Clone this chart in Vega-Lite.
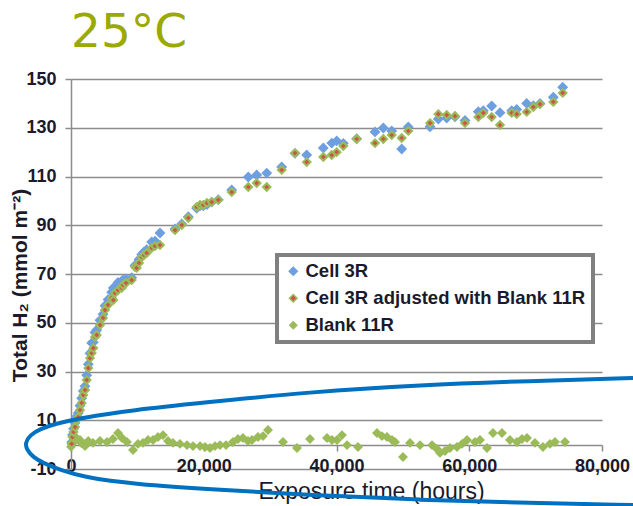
{
  "$schema": "https://vega.github.io/schema/vega-lite/v6.json",
  "width": 531,
  "height": 390,
  "autosize": "none",
  "padding": {"left": 71, "top": 79, "right": 31, "bottom": 37},
  "background": "white",
  "title": {
    "text": "25°C",
    "anchor": "start",
    "frame": "group",
    "font": "DejaVu Sans",
    "fontSize": 47,
    "fontWeight": "normal",
    "color": "#9aaa00",
    "dx": 0,
    "offset": 13
  },
  "datasets": {
    "ellipse": [
      {"i": 0, "t": 84671, "h": 27.3},
      {"i": 1, "t": 69153, "h": 26.1},
      {"i": 2, "t": 52580, "h": 24.5},
      {"i": 3, "t": 36008, "h": 21.6},
      {"i": 4, "t": 19435, "h": 17.1},
      {"i": 5, "t": 9341, "h": 14.2},
      {"i": 6, "t": 1356, "h": 10.9},
      {"i": 7, "t": -2411, "h": 8.5},
      {"i": 8, "t": -4670, "h": 6.4},
      {"i": 9, "t": -6177, "h": 3.9},
      {"i": 10, "t": -6930, "h": 0.7},
      {"i": 11, "t": -6629, "h": -2.2},
      {"i": 12, "t": -5725, "h": -5.1},
      {"i": 13, "t": -4218, "h": -7.5},
      {"i": 14, "t": -1657, "h": -10.4},
      {"i": 15, "t": 1808, "h": -13.3},
      {"i": 16, "t": 9341, "h": -16.2},
      {"i": 17, "t": 22448, "h": -18.6},
      {"i": 18, "t": 36008, "h": -20.7},
      {"i": 19, "t": 52580, "h": -22.7},
      {"i": 20, "t": 69153, "h": -23.9},
      {"i": 21, "t": 84671, "h": -24.8}
    ],
    "points": [
      {"s": "Cell 3R", "t": 105, "h": 1.0},
      {"s": "Cell 3R", "t": 226, "h": 4.0},
      {"s": "Cell 3R", "t": 377, "h": 6.5},
      {"s": "Cell 3R", "t": 603, "h": 9.0},
      {"s": "Cell 3R", "t": 829, "h": 11.5},
      {"s": "Cell 3R", "t": 1100, "h": 13.0},
      {"s": "Cell 3R", "t": 1356, "h": 16.0},
      {"s": "Cell 3R", "t": 1612, "h": 19.0},
      {"s": "Cell 3R", "t": 1853, "h": 22.0},
      {"s": "Cell 3R", "t": 2109, "h": 24.0},
      {"s": "Cell 3R", "t": 2365, "h": 28.5},
      {"s": "Cell 3R", "t": 2606, "h": 33.0},
      {"s": "Cell 3R", "t": 2863, "h": 37.5},
      {"s": "Cell 3R", "t": 3119, "h": 41.7},
      {"s": "Cell 3R", "t": 3360, "h": 42.0},
      {"s": "Cell 3R", "t": 3616, "h": 46.0},
      {"s": "Cell 3R", "t": 3872, "h": 47.0},
      {"s": "Cell 3R", "t": 4369, "h": 51.0},
      {"s": "Cell 3R", "t": 4821, "h": 53.5},
      {"s": "Cell 3R", "t": 5122, "h": 57.0},
      {"s": "Cell 3R", "t": 5574, "h": 59.5},
      {"s": "Cell 3R", "t": 6132, "h": 62.5},
      {"s": "Cell 3R", "t": 6373, "h": 64.3},
      {"s": "Cell 3R", "t": 6629, "h": 64.0},
      {"s": "Cell 3R", "t": 7081, "h": 66.5},
      {"s": "Cell 3R", "t": 7638, "h": 67.0},
      {"s": "Cell 3R", "t": 7834, "h": 67.5},
      {"s": "Cell 3R", "t": 8286, "h": 68.0},
      {"s": "Cell 3R", "t": 9145, "h": 68.5},
      {"s": "Cell 3R", "t": 9642, "h": 73.5},
      {"s": "Cell 3R", "t": 9898, "h": 74.0},
      {"s": "Cell 3R", "t": 10245, "h": 76.0},
      {"s": "Cell 3R", "t": 10652, "h": 78.0},
      {"s": "Cell 3R", "t": 10998, "h": 79.0},
      {"s": "Cell 3R", "t": 11405, "h": 80.0},
      {"s": "Cell 3R", "t": 12158, "h": 83.1},
      {"s": "Cell 3R", "t": 12655, "h": 83.5},
      {"s": "Cell 3R", "t": 13409, "h": 86.8},
      {"s": "Cell 3R", "t": 15669, "h": 88.5},
      {"s": "Cell 3R", "t": 16678, "h": 90.5},
      {"s": "Cell 3R", "t": 17673, "h": 93.5},
      {"s": "Cell 3R", "t": 18938, "h": 97.0},
      {"s": "Cell 3R", "t": 19436, "h": 98.0},
      {"s": "Cell 3R", "t": 19933, "h": 98.0},
      {"s": "Cell 3R", "t": 20490, "h": 98.5},
      {"s": "Cell 3R", "t": 21198, "h": 99.5},
      {"s": "Cell 3R", "t": 22192, "h": 100.5},
      {"s": "Cell 3R", "t": 24211, "h": 104.5},
      {"s": "Cell 3R", "t": 26712, "h": 109.8},
      {"s": "Cell 3R", "t": 27978, "h": 110.6},
      {"s": "Cell 3R", "t": 29484, "h": 111.4},
      {"s": "Cell 3R", "t": 31744, "h": 113.9},
      {"s": "Cell 3R", "t": 33748, "h": 119.5},
      {"s": "Cell 3R", "t": 35511, "h": 118.8},
      {"s": "Cell 3R", "t": 38012, "h": 121.7},
      {"s": "Cell 3R", "t": 39278, "h": 123.7},
      {"s": "Cell 3R", "t": 40031, "h": 124.6},
      {"s": "Cell 3R", "t": 41025, "h": 123.6},
      {"s": "Cell 3R", "t": 43043, "h": 125.5},
      {"s": "Cell 3R", "t": 45801, "h": 128.3},
      {"s": "Cell 3R", "t": 47051, "h": 129.9},
      {"s": "Cell 3R", "t": 48317, "h": 128.7},
      {"s": "Cell 3R", "t": 49824, "h": 121.3},
      {"s": "Cell 3R", "t": 50818, "h": 130.3},
      {"s": "Cell 3R", "t": 54088, "h": 130.4},
      {"s": "Cell 3R", "t": 55338, "h": 133.6},
      {"s": "Cell 3R", "t": 56604, "h": 134.0},
      {"s": "Cell 3R", "t": 57854, "h": 134.5},
      {"s": "Cell 3R", "t": 59360, "h": 133.0},
      {"s": "Cell 3R", "t": 61364, "h": 136.6},
      {"s": "Cell 3R", "t": 62117, "h": 137.0},
      {"s": "Cell 3R", "t": 63383, "h": 138.9},
      {"s": "Cell 3R", "t": 64634, "h": 136.2},
      {"s": "Cell 3R", "t": 66396, "h": 137.0},
      {"s": "Cell 3R", "t": 67150, "h": 137.5},
      {"s": "Cell 3R", "t": 68656, "h": 140.0},
      {"s": "Cell 3R", "t": 69651, "h": 139.0},
      {"s": "Cell 3R", "t": 70660, "h": 140.0},
      {"s": "Cell 3R", "t": 72664, "h": 142.5},
      {"s": "Cell 3R", "t": 74080, "h": 146.6},
      {"s": "Blank 11R", "t": 0, "h": -0.9},
      {"s": "Blank 11R", "t": 105, "h": 0.7},
      {"s": "Blank 11R", "t": 300, "h": 1.0},
      {"s": "Blank 11R", "t": 603, "h": 1.9},
      {"s": "Blank 11R", "t": 900, "h": 2.5},
      {"s": "Blank 11R", "t": 1356, "h": 1.9},
      {"s": "Blank 11R", "t": 1600, "h": 0.5},
      {"s": "Blank 11R", "t": 2109, "h": -0.6},
      {"s": "Blank 11R", "t": 2600, "h": 1.5},
      {"s": "Blank 11R", "t": 3315, "h": 0.7},
      {"s": "Blank 11R", "t": 4369, "h": 1.5},
      {"s": "Blank 11R", "t": 5424, "h": 1.1},
      {"s": "Blank 11R", "t": 6327, "h": 2.3},
      {"s": "Blank 11R", "t": 7081, "h": 4.8},
      {"s": "Blank 11R", "t": 7684, "h": 2.7},
      {"s": "Blank 11R", "t": 8437, "h": 1.1},
      {"s": "Blank 11R", "t": 9340, "h": -2.2},
      {"s": "Blank 11R", "t": 10094, "h": 0.3},
      {"s": "Blank 11R", "t": 10847, "h": 0.7},
      {"s": "Blank 11R", "t": 11601, "h": 1.9},
      {"s": "Blank 11R", "t": 12354, "h": 1.9},
      {"s": "Blank 11R", "t": 13108, "h": 3.1},
      {"s": "Blank 11R", "t": 13861, "h": 3.9},
      {"s": "Blank 11R", "t": 14614, "h": 1.5},
      {"s": "Blank 11R", "t": 15367, "h": 0.7},
      {"s": "Blank 11R", "t": 16422, "h": 0.3},
      {"s": "Blank 11R", "t": 17475, "h": -0.2},
      {"s": "Blank 11R", "t": 18380, "h": -0.6},
      {"s": "Blank 11R", "t": 19436, "h": -0.6},
      {"s": "Blank 11R", "t": 20189, "h": -1.0},
      {"s": "Blank 11R", "t": 20942, "h": -1.4},
      {"s": "Blank 11R", "t": 21695, "h": -0.6},
      {"s": "Blank 11R", "t": 22448, "h": -0.2},
      {"s": "Blank 11R", "t": 23352, "h": -0.2},
      {"s": "Blank 11R", "t": 24407, "h": 1.1},
      {"s": "Blank 11R", "t": 25160, "h": 2.3},
      {"s": "Blank 11R", "t": 25913, "h": 2.7},
      {"s": "Blank 11R", "t": 26667, "h": 1.5},
      {"s": "Blank 11R", "t": 27270, "h": 1.9},
      {"s": "Blank 11R", "t": 28174, "h": 3.1},
      {"s": "Blank 11R", "t": 28927, "h": 3.5},
      {"s": "Blank 11R", "t": 29680, "h": 6.0},
      {"s": "Blank 11R", "t": 31940, "h": 1.1},
      {"s": "Blank 11R", "t": 34049, "h": -1.4},
      {"s": "Blank 11R", "t": 36008, "h": 2.3},
      {"s": "Blank 11R", "t": 38569, "h": 2.7},
      {"s": "Blank 11R", "t": 39322, "h": 1.9},
      {"s": "Blank 11R", "t": 40076, "h": 1.9},
      {"s": "Blank 11R", "t": 40829, "h": 3.9},
      {"s": "Blank 11R", "t": 41582, "h": -0.2},
      {"s": "Blank 11R", "t": 43239, "h": -1.0},
      {"s": "Blank 11R", "t": 46102, "h": 4.8},
      {"s": "Blank 11R", "t": 46855, "h": 3.5},
      {"s": "Blank 11R", "t": 47608, "h": 3.1},
      {"s": "Blank 11R", "t": 48362, "h": 1.9},
      {"s": "Blank 11R", "t": 48814, "h": 1.1},
      {"s": "Blank 11R", "t": 50019, "h": -5.1},
      {"s": "Blank 11R", "t": 51074, "h": 0.7},
      {"s": "Blank 11R", "t": 52580, "h": -0.2},
      {"s": "Blank 11R", "t": 54388, "h": -0.2},
      {"s": "Blank 11R", "t": 55142, "h": -1.8},
      {"s": "Blank 11R", "t": 55594, "h": -3.4},
      {"s": "Blank 11R", "t": 56347, "h": -2.6},
      {"s": "Blank 11R", "t": 57100, "h": -1.4},
      {"s": "Blank 11R", "t": 58155, "h": -1.0},
      {"s": "Blank 11R", "t": 58908, "h": 0.3},
      {"s": "Blank 11R", "t": 59661, "h": 1.9},
      {"s": "Blank 11R", "t": 60866, "h": 1.1},
      {"s": "Blank 11R", "t": 61619, "h": 1.9},
      {"s": "Blank 11R", "t": 62674, "h": -1.4},
      {"s": "Blank 11R", "t": 63578, "h": 4.8},
      {"s": "Blank 11R", "t": 64934, "h": 4.8},
      {"s": "Blank 11R", "t": 66139, "h": 1.9},
      {"s": "Blank 11R", "t": 67193, "h": 1.1},
      {"s": "Blank 11R", "t": 67947, "h": 2.3},
      {"s": "Blank 11R", "t": 68700, "h": 2.7},
      {"s": "Blank 11R", "t": 69905, "h": 0.7},
      {"s": "Blank 11R", "t": 71110, "h": -1.0},
      {"s": "Blank 11R", "t": 72164, "h": 0.3},
      {"s": "Blank 11R", "t": 72918, "h": 1.1},
      {"s": "Blank 11R", "t": 74425, "h": 1.1},
      {"s": "Cell 3R adjusted with Blank 11R", "t": 105, "h": 0.3},
      {"s": "Cell 3R adjusted with Blank 11R", "t": 226, "h": 3.1},
      {"s": "Cell 3R adjusted with Blank 11R", "t": 377, "h": 5.2},
      {"s": "Cell 3R adjusted with Blank 11R", "t": 603, "h": 7.2},
      {"s": "Cell 3R adjusted with Blank 11R", "t": 829, "h": 10.1},
      {"s": "Cell 3R adjusted with Blank 11R", "t": 1100, "h": 11.3},
      {"s": "Cell 3R adjusted with Blank 11R", "t": 1356, "h": 14.2},
      {"s": "Cell 3R adjusted with Blank 11R", "t": 1612, "h": 17.1},
      {"s": "Cell 3R adjusted with Blank 11R", "t": 1853, "h": 20.4},
      {"s": "Cell 3R adjusted with Blank 11R", "t": 2109, "h": 22.4},
      {"s": "Cell 3R adjusted with Blank 11R", "t": 2365, "h": 26.5},
      {"s": "Cell 3R adjusted with Blank 11R", "t": 2606, "h": 31.4},
      {"s": "Cell 3R adjusted with Blank 11R", "t": 2863, "h": 35.5},
      {"s": "Cell 3R adjusted with Blank 11R", "t": 3119, "h": 37.6},
      {"s": "Cell 3R adjusted with Blank 11R", "t": 3360, "h": 39.6},
      {"s": "Cell 3R adjusted with Blank 11R", "t": 3616, "h": 44.2},
      {"s": "Cell 3R adjusted with Blank 11R", "t": 3872, "h": 45.0},
      {"s": "Cell 3R adjusted with Blank 11R", "t": 4369, "h": 49.1},
      {"s": "Cell 3R adjusted with Blank 11R", "t": 4821, "h": 52.0},
      {"s": "Cell 3R adjusted with Blank 11R", "t": 5122, "h": 55.2},
      {"s": "Cell 3R adjusted with Blank 11R", "t": 5574, "h": 57.3},
      {"s": "Cell 3R adjusted with Blank 11R", "t": 6132, "h": 60.2},
      {"s": "Cell 3R adjusted with Blank 11R", "t": 6373, "h": 59.3},
      {"s": "Cell 3R adjusted with Blank 11R", "t": 6629, "h": 62.2},
      {"s": "Cell 3R adjusted with Blank 11R", "t": 7081, "h": 63.4},
      {"s": "Cell 3R adjusted with Blank 11R", "t": 7638, "h": 64.3},
      {"s": "Cell 3R adjusted with Blank 11R", "t": 7834, "h": 65.5},
      {"s": "Cell 3R adjusted with Blank 11R", "t": 8286, "h": 66.3},
      {"s": "Cell 3R adjusted with Blank 11R", "t": 9145, "h": 67.5},
      {"s": "Cell 3R adjusted with Blank 11R", "t": 9642, "h": 72.9},
      {"s": "Cell 3R adjusted with Blank 11R", "t": 9898, "h": 72.5},
      {"s": "Cell 3R adjusted with Blank 11R", "t": 10245, "h": 74.5},
      {"s": "Cell 3R adjusted with Blank 11R", "t": 10652, "h": 77.0},
      {"s": "Cell 3R adjusted with Blank 11R", "t": 10998, "h": 77.8},
      {"s": "Cell 3R adjusted with Blank 11R", "t": 11405, "h": 78.6},
      {"s": "Cell 3R adjusted with Blank 11R", "t": 12158, "h": 80.7},
      {"s": "Cell 3R adjusted with Blank 11R", "t": 12655, "h": 81.5},
      {"s": "Cell 3R adjusted with Blank 11R", "t": 13409, "h": 81.9},
      {"s": "Cell 3R adjusted with Blank 11R", "t": 15669, "h": 88.0},
      {"s": "Cell 3R adjusted with Blank 11R", "t": 16678, "h": 90.1},
      {"s": "Cell 3R adjusted with Blank 11R", "t": 17673, "h": 93.0},
      {"s": "Cell 3R adjusted with Blank 11R", "t": 18938, "h": 97.5},
      {"s": "Cell 3R adjusted with Blank 11R", "t": 19436, "h": 98.3},
      {"s": "Cell 3R adjusted with Blank 11R", "t": 19933, "h": 98.3},
      {"s": "Cell 3R adjusted with Blank 11R", "t": 20490, "h": 99.1},
      {"s": "Cell 3R adjusted with Blank 11R", "t": 21198, "h": 99.5},
      {"s": "Cell 3R adjusted with Blank 11R", "t": 22192, "h": 100.4},
      {"s": "Cell 3R adjusted with Blank 11R", "t": 24211, "h": 103.6},
      {"s": "Cell 3R adjusted with Blank 11R", "t": 26712, "h": 105.7},
      {"s": "Cell 3R adjusted with Blank 11R", "t": 27978, "h": 107.3},
      {"s": "Cell 3R adjusted with Blank 11R", "t": 29484, "h": 105.7},
      {"s": "Cell 3R adjusted with Blank 11R", "t": 31744, "h": 112.7},
      {"s": "Cell 3R adjusted with Blank 11R", "t": 33748, "h": 119.6},
      {"s": "Cell 3R adjusted with Blank 11R", "t": 35511, "h": 115.9},
      {"s": "Cell 3R adjusted with Blank 11R", "t": 38012, "h": 118.0},
      {"s": "Cell 3R adjusted with Blank 11R", "t": 39278, "h": 118.8},
      {"s": "Cell 3R adjusted with Blank 11R", "t": 40031, "h": 120.0},
      {"s": "Cell 3R adjusted with Blank 11R", "t": 41025, "h": 122.5},
      {"s": "Cell 3R adjusted with Blank 11R", "t": 43043, "h": 125.4},
      {"s": "Cell 3R adjusted with Blank 11R", "t": 45801, "h": 123.7},
      {"s": "Cell 3R adjusted with Blank 11R", "t": 47051, "h": 125.4},
      {"s": "Cell 3R adjusted with Blank 11R", "t": 48317, "h": 127.0},
      {"s": "Cell 3R adjusted with Blank 11R", "t": 49824, "h": 125.8},
      {"s": "Cell 3R adjusted with Blank 11R", "t": 50818, "h": 128.7},
      {"s": "Cell 3R adjusted with Blank 11R", "t": 54088, "h": 131.9},
      {"s": "Cell 3R adjusted with Blank 11R", "t": 55338, "h": 135.6},
      {"s": "Cell 3R adjusted with Blank 11R", "t": 56604, "h": 135.2},
      {"s": "Cell 3R adjusted with Blank 11R", "t": 57854, "h": 134.8},
      {"s": "Cell 3R adjusted with Blank 11R", "t": 59360, "h": 131.9},
      {"s": "Cell 3R adjusted with Blank 11R", "t": 61364, "h": 134.4},
      {"s": "Cell 3R adjusted with Blank 11R", "t": 62117, "h": 136.1},
      {"s": "Cell 3R adjusted with Blank 11R", "t": 63383, "h": 134.4},
      {"s": "Cell 3R adjusted with Blank 11R", "t": 64634, "h": 131.1},
      {"s": "Cell 3R adjusted with Blank 11R", "t": 66396, "h": 136.1},
      {"s": "Cell 3R adjusted with Blank 11R", "t": 67150, "h": 135.6},
      {"s": "Cell 3R adjusted with Blank 11R", "t": 68656, "h": 136.5},
      {"s": "Cell 3R adjusted with Blank 11R", "t": 69651, "h": 138.5},
      {"s": "Cell 3R adjusted with Blank 11R", "t": 70660, "h": 139.7},
      {"s": "Cell 3R adjusted with Blank 11R", "t": 72664, "h": 140.6},
      {"s": "Cell 3R adjusted with Blank 11R", "t": 74080, "h": 144.3}
    ]
  },
  "layer": [
    {
      "data": {"name": "points"},
      "mark": {"type": "point", "shape": "diamond", "filled": true, "strokeWidth": 2, "opacity": 1},
      "encoding": {
        "x": {
          "field": "t",
          "type": "quantitative",
          "scale": {"domain": [0, 80000], "nice": false, "zero": false},
          "axis": {
            "values": [0, 20000, 40000, 60000, 80000],
            "format": ",d",
            "labelFlush": false,
            "labelOverlap": false,
            "labelBound": false,
            "offset": -24,
            "grid": false,
            "domainColor": "#8c8c8c",
            "domainWidth": 1.5,
            "tickColor": "#8c8c8c",
            "tickWidth": 1.5,
            "tickSize": 6,
            "labelPadding": 6,
            "labelFont": "Liberation Sans",
            "labelFontWeight": "bold",
            "labelFontSize": 18,
            "labelColor": "#1a1a2a",
            "title": "Exposure time (hours)",
            "titleFont": "Liberation Sans",
            "titleFontWeight": "normal",
            "titleFontSize": 23,
            "titleColor": "#1a1a2a",
            "titleX": 300,
            "titleY": 46,
            "titleAlign": "center",
            "titleBaseline": "middle"
          }
        },
        "y": {
          "field": "h",
          "type": "quantitative",
          "scale": {"domain": [-10, 150], "nice": false, "zero": false},
          "axis": {
            "values": [-10, 10, 30, 50, 70, 90, 110, 130, 150],
            "labelExpr": "replace(datum.label, '−', '-')",
            "labelFlush": false,
            "grid": true,
            "gridColor": "#8c8c8c",
            "gridWidth": 1.5,
            "domainColor": "#8c8c8c",
            "domainWidth": 1.5,
            "tickColor": "#8c8c8c",
            "tickWidth": 1.5,
            "tickSize": 6,
            "labelPadding": 9,
            "labelFont": "Liberation Sans",
            "labelFontWeight": "bold",
            "labelFontSize": 18,
            "labelColor": "#1a1a2a",
            "title": "Total H₂ (mmol m⁻²)",
            "titleFont": "Liberation Sans",
            "titleFontWeight": "bold",
            "titleFontSize": 21,
            "titleColor": "#1a1a2a",
            "titleAngle": 270,
            "titleX": -51,
            "titleY": 206,
            "titleAlign": "center",
            "titleBaseline": "middle"
          }
        },
        "fill": {
          "field": "s",
          "type": "nominal",
          "scale": {
            "domain": ["Cell 3R", "Cell 3R adjusted with Blank 11R", "Blank 11R"],
            "range": ["#6e9fe0", "#cc5548", "#9bbb59"]
          },
          "legend": {
            "title": null,
            "orient": "none",
            "legendX": 206,
            "legendY": 176,
            "symbolType": "diamond",
            "labelFont": "Liberation Sans",
            "labelFontWeight": "bold",
            "labelFontSize": 18.5,
            "labelColor": "#1a1a2a",
            "labelLimit": 400,
            "labelOffset": 3,
            "rowPadding": 8,
            "padding": 7,
            "strokeColor": "#808080",
            "fillColor": "white"
          }
        },
        "stroke": {
          "field": "s",
          "type": "nominal",
          "scale": {
            "domain": ["Cell 3R", "Cell 3R adjusted with Blank 11R", "Blank 11R"],
            "range": ["#6e9fe0", "#9bbb59", "#9bbb59"]
          }
        },
        "size": {
          "field": "s",
          "type": "nominal",
          "scale": {
            "domain": ["Cell 3R", "Cell 3R adjusted with Blank 11R", "Blank 11R"],
            "range": [65, 50, 100]
          }
        }
      }
    },
    {
      "data": {"name": "ellipse"},
      "mark": {"type": "line", "color": "#0070c0", "strokeWidth": 4, "interpolate": "basis", "clip": false},
      "encoding": {
        "x": {"field": "t", "type": "quantitative"},
        "y": {"field": "h", "type": "quantitative"},
        "order": {"field": "i", "type": "quantitative"}
      }
    }
  ],
  "config": {
    "view": {"stroke": null},
    "legend": {"strokeWidth": 4}
  }
}
